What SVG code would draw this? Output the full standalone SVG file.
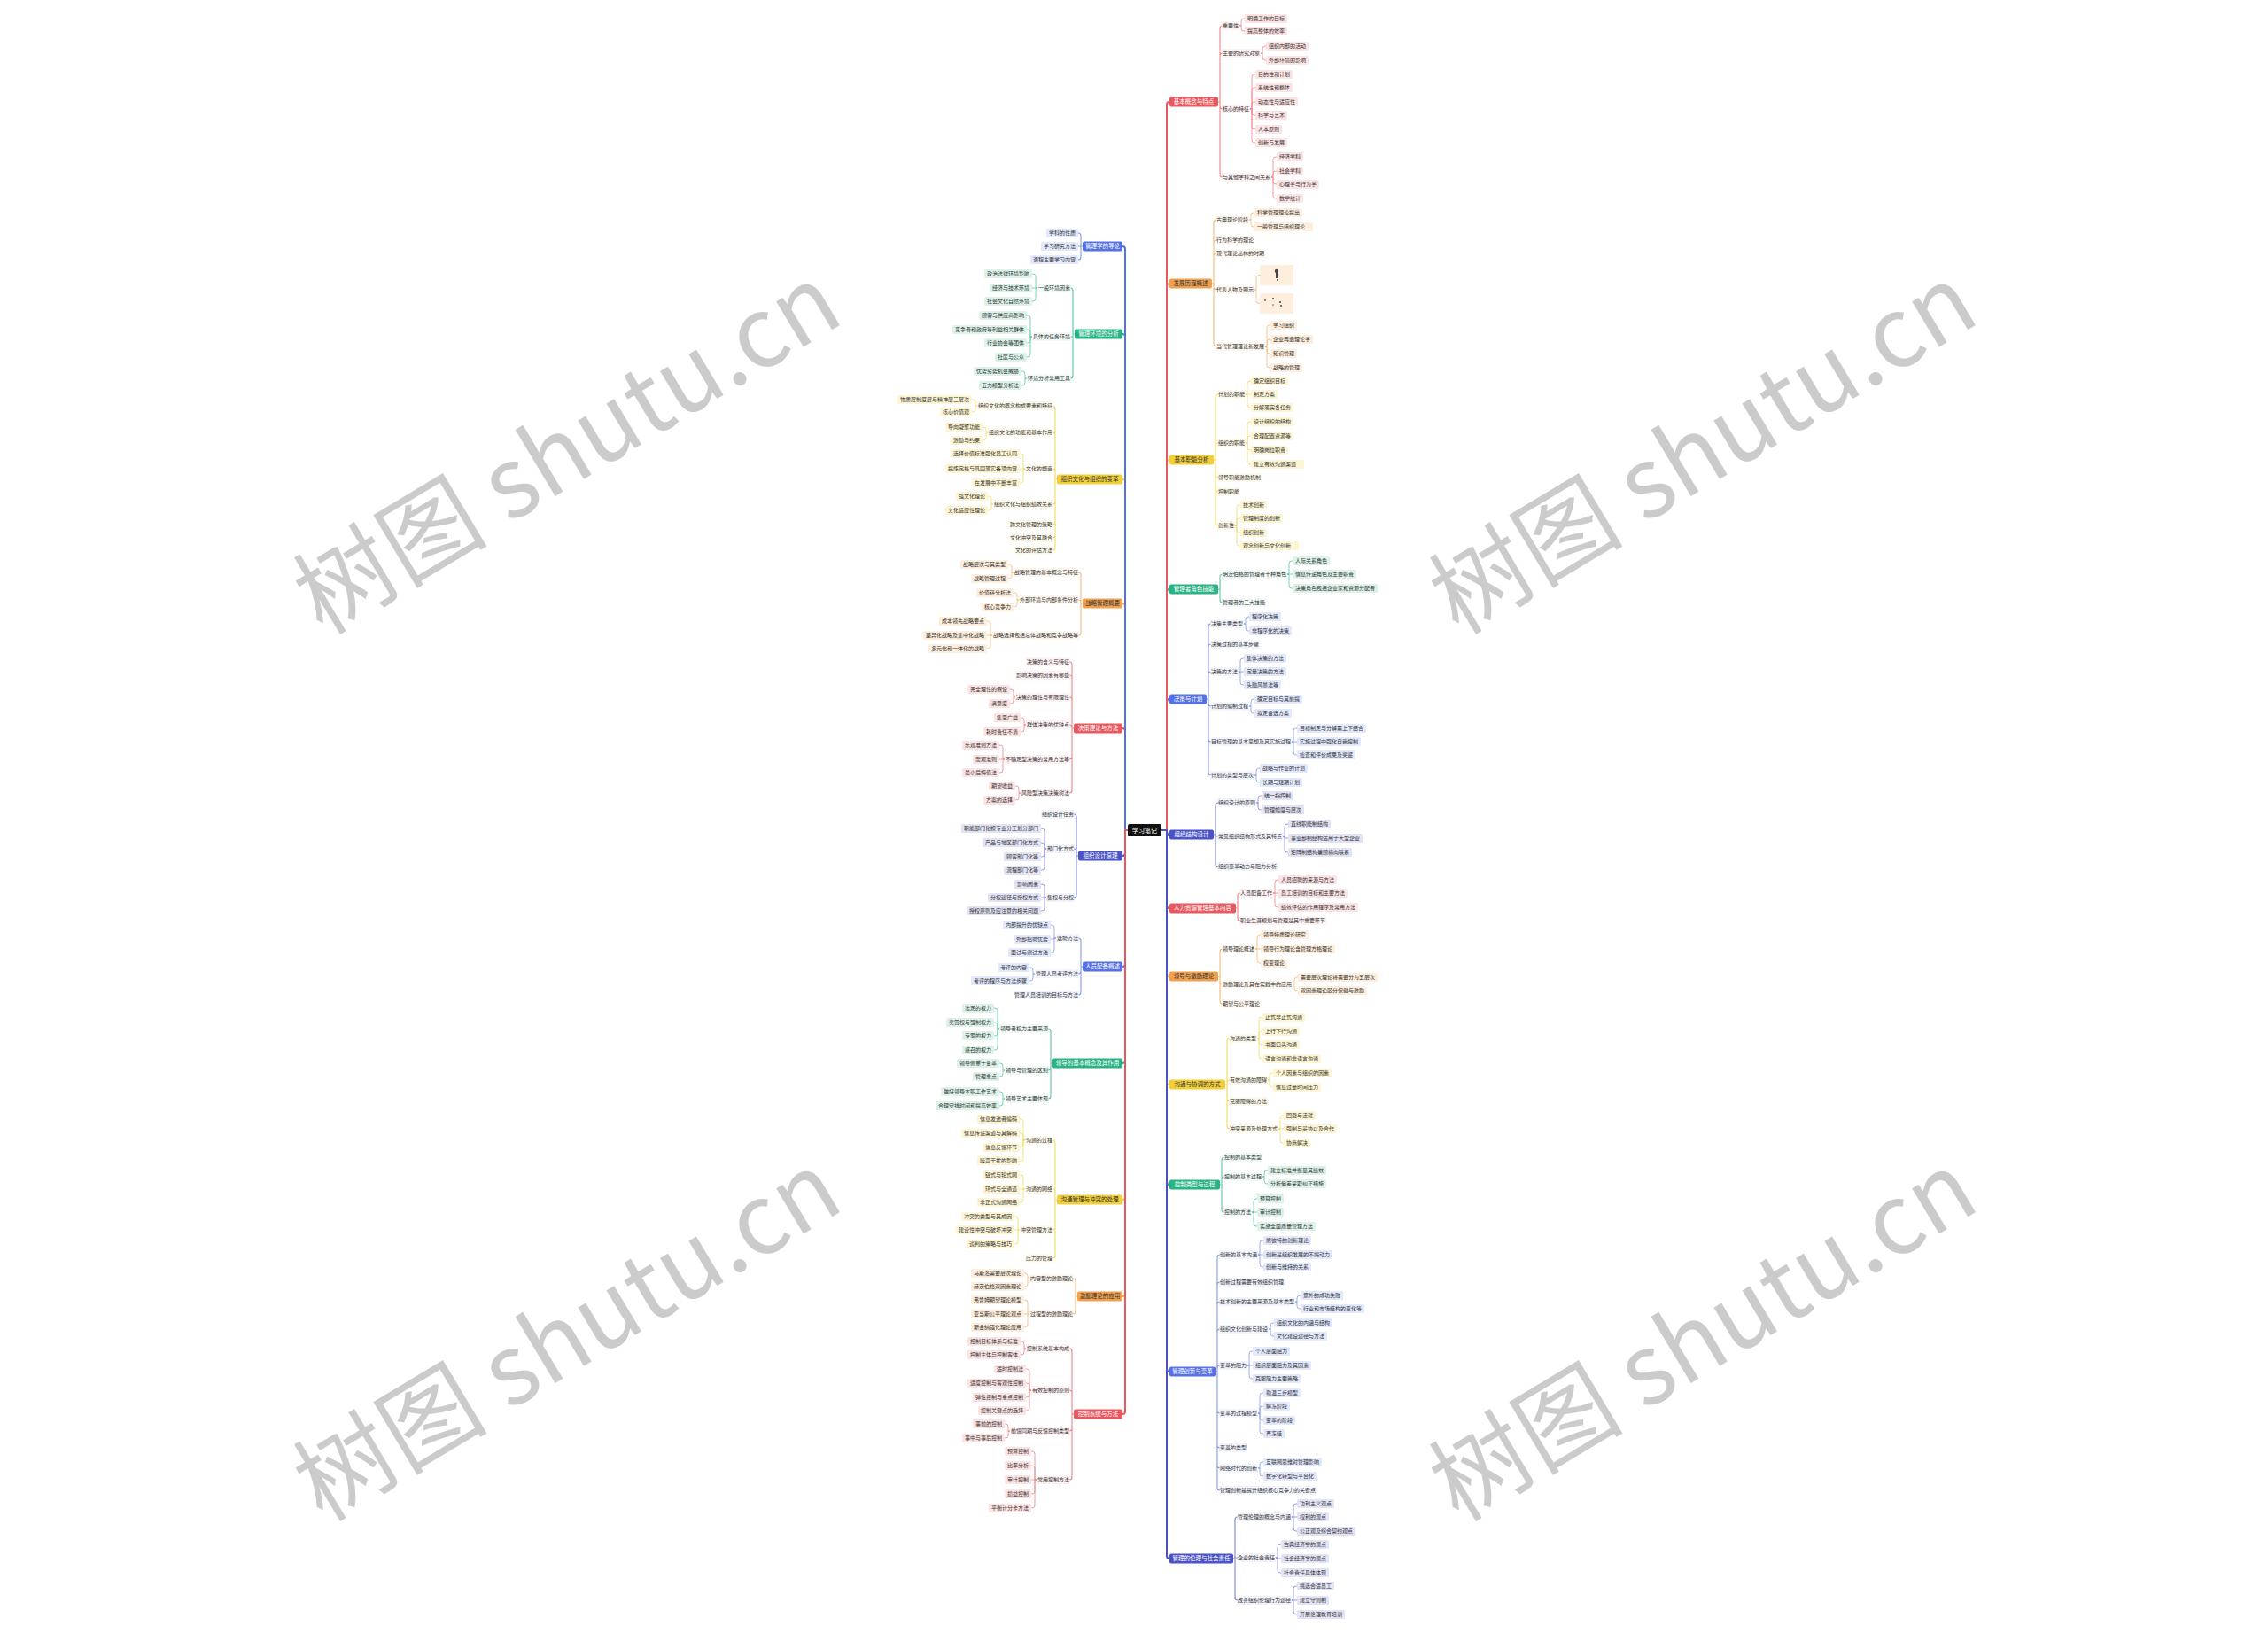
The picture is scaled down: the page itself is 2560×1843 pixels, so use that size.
<svg xmlns="http://www.w3.org/2000/svg" width="2560" height="1843" viewBox="0 0 2560 1843">
<style>
text{font-family:"Noto Sans CJK SC","Noto Sans",sans-serif}
.t{font-size:6px;fill:#333}
.e{text-anchor:end}
.bt{font-size:6.5px;text-anchor:middle}
.w{fill:#fff}
.d{fill:#333}
.ct{font-size:7px;fill:#fff;text-anchor:middle}
.wm{font-family:"Liberation Serif","Noto Sans CJK SC",serif;font-size:110px;fill:#cbcbcb;text-anchor:middle}
.h{opacity:.45}
.fr{fill:#FCE3E4}.fo{fill:#FDEEDD}.fy{fill:#FDF5D3}.fg{fill:#DDF3EA}.fb{fill:#E3E9FC}.fi{fill:#E2E4F6}
.br{fill:#E8585E}.bo{fill:#F0A150}.by{fill:#F2CF3A}.bg{fill:#29B384}.bb{fill:#5571E6}.bi{fill:#4A53C6}
.k{fill:none;stroke-width:2;stroke-linecap:round}
.c2{fill:none;stroke-width:1.1}
.c3{fill:none;stroke-width:.8}
.kr{stroke:#E8585E}.ko{stroke:#F0A150}.ky{stroke:#F2CF3A}.kg{stroke:#29B384}.kb{stroke:#5571E6}.ki{stroke:#4A53C6}
.sr{stroke:#EF8388}.so{stroke:#F4B97A}.sy{stroke:#F4D964}.sg{stroke:#5EC7A2}.sb{stroke:#8399EE}.si{stroke:#7D84D8}
</style>
<rect width="2560" height="1843" fill="#fff"/>
<g id="watermarks" class="wm">
<text transform="translate(660 540) rotate(-31)">树图 shutu.cn</text>
<text transform="translate(660 1541) rotate(-31)">树图 shutu.cn</text>
<text transform="translate(1942 540) rotate(-31)">树图 shutu.cn</text>
<text transform="translate(1942 1541) rotate(-31)">树图 shutu.cn</text>
</g>
<g id="connectors">
<path class="k ki" d="M1311 937H1317V939Q1317 942 1320 942"/>
<path class="k kr" d="M1311 937H1317V1022Q1317 1025 1320 1025"/>
<path class="k kb" d="M1311 937H1317V792Q1317 789 1320 789"/>
<path class="k ko" d="M1311 937H1317V1099Q1317 1102 1320 1102"/>
<path class="k kg" d="M1311 937H1317V668Q1317 665 1320 665"/>
<path class="k ky" d="M1311 937H1317V1221Q1317 1224 1320 1224"/>
<path class="k ky" d="M1311 937H1317V522Q1317 519 1320 519"/>
<path class="k kg" d="M1311 937H1317V1334Q1317 1337 1320 1337"/>
<path class="k ko" d="M1311 937H1317V323Q1317 320 1320 320"/>
<path class="k kb" d="M1311 937H1317V1545Q1317 1548 1320 1548"/>
<path class="k kr" d="M1311 937H1317V118Q1317 115 1320 115"/>
<path class="k ki" d="M1311 937H1317V1756Q1317 1759 1320 1759"/>
<path class="k ki" d="M1273 937H1270V963Q1270 966 1267 966"/>
<path class="k kr" d="M1273 937H1270V825Q1270 822 1267 822"/>
<path class="k kb" d="M1273 937H1270V1088Q1270 1091 1267 1091"/>
<path class="k ko" d="M1273 937H1270V684Q1270 681 1267 681"/>
<path class="k kg" d="M1273 937H1270V1197Q1270 1200 1267 1200"/>
<path class="k ky" d="M1273 937H1270V544Q1270 541 1267 541"/>
<path class="k ky" d="M1273 937H1270V1351Q1270 1354 1267 1354"/>
<path class="k kg" d="M1273 937H1270V380Q1270 377 1267 377"/>
<path class="k ko" d="M1273 937H1270V1460Q1270 1463 1267 1463"/>
<path class="k kb" d="M1273 937H1270V281Q1270 278 1267 278"/>
<path class="k kr" d="M1273 937H1270V1593Q1270 1596 1267 1596"/>
<path class="c2 sr" d="M1375 115H1377V32Q1377 29 1380 29M1375 115H1377V63Q1377 60 1380 60M1375 115H1377V120Q1377 123 1380 123M1375 115H1377V197Q1377 200 1380 200"/>
<path class="c2 so" d="M1368 320H1370V251Q1370 248 1373 248M1368 320H1370V274Q1370 271 1373 271M1368 320H1370V289Q1370 286 1373 286M1368 320H1370V324Q1370 327 1373 327M1368 320H1370V388Q1370 391 1373 391"/>
<path class="c2 sy" d="M1370 519H1372V448Q1372 445 1375 445M1370 519H1372V503Q1372 500 1375 500M1370 519H1372V536Q1372 539 1375 539M1370 519H1372V552Q1372 555 1375 555M1370 519H1372V590Q1372 593 1375 593"/>
<path class="c2 sg" d="M1375 665H1377V651Q1377 648 1380 648M1375 665H1377V677Q1377 680 1380 680"/>
<path class="c2 sb" d="M1362 789H1364V707Q1364 704 1367 704M1362 789H1364V730Q1364 727 1367 727M1362 789H1364V761Q1364 758 1367 758M1362 789H1364V794Q1364 797 1367 797M1362 789H1364V834Q1364 837 1367 837M1362 789H1364V872Q1364 875 1367 875"/>
<path class="c2 si" d="M1370 942H1372V909Q1372 906 1375 906M1370 942H1372V944H1375M1370 942H1372V975Q1372 978 1375 978"/>
<path class="c2 sr" d="M1395 1025H1397V1011Q1397 1008 1400 1008M1395 1025H1397V1036Q1397 1039 1400 1039"/>
<path class="c2 so" d="M1375 1102H1377V1074Q1377 1071 1380 1071M1375 1102H1377V1108Q1377 1111 1380 1111M1375 1102H1377V1130Q1377 1133 1380 1133"/>
<path class="c2 sy" d="M1383 1224H1385V1175Q1385 1172 1388 1172M1383 1224H1385V1222Q1385 1219 1388 1219M1383 1224H1385V1240Q1385 1243 1388 1243M1383 1224H1385V1271Q1385 1274 1388 1274"/>
<path class="c2 sg" d="M1377 1337H1379V1309Q1379 1306 1382 1306M1377 1337H1379V1331Q1379 1328 1382 1328M1377 1337H1379V1365Q1379 1368 1382 1368"/>
<path class="c2 sb" d="M1372 1548H1374V1419Q1374 1416 1377 1416M1372 1548H1374V1450Q1374 1447 1377 1447M1372 1548H1374V1472Q1374 1469 1377 1469M1372 1548H1374V1503Q1374 1500 1377 1500M1372 1548H1374V1544Q1374 1541 1377 1541M1372 1548H1374V1592Q1374 1595 1377 1595M1372 1548H1374V1631Q1374 1634 1377 1634M1372 1548H1374V1654Q1374 1657 1377 1657M1372 1548H1374V1679Q1374 1682 1377 1682"/>
<path class="c2 si" d="M1392 1759H1394V1715Q1394 1712 1397 1712M1392 1759H1394V1758H1397M1392 1759H1394V1803Q1394 1806 1397 1806"/>
<path class="c2 sb" d="M1222 278H1220V266Q1220 263 1217 263M1222 278H1217M1222 278H1220V290Q1220 293 1217 293"/>
<path class="c2 sg" d="M1213 377H1211V328Q1211 325 1208 325M1213 377H1211V380H1208M1213 377H1211V424Q1211 427 1208 427"/>
<path class="c2 sy" d="M1193 541H1191V461Q1191 458 1188 458M1193 541H1191V491Q1191 488 1188 488M1193 541H1191V532Q1191 529 1188 529M1193 541H1191V566Q1191 569 1188 569M1193 541H1191V589Q1191 592 1188 592M1193 541H1191V604Q1191 607 1188 607M1193 541H1191V618Q1191 621 1188 621"/>
<path class="c2 so" d="M1222 681H1220V649Q1220 646 1217 646M1222 681H1220V680Q1220 677 1217 677M1222 681H1220V714Q1220 717 1217 717"/>
<path class="c2 sr" d="M1212 822H1210V750Q1210 747 1207 747M1212 822H1210V765Q1210 762 1207 762M1212 822H1210V790Q1210 787 1207 787M1212 822H1210V821Q1210 818 1207 818M1212 822H1210V854Q1210 857 1207 857M1212 822H1210V892Q1210 895 1207 895"/>
<path class="c2 si" d="M1217 966H1215V922Q1215 919 1212 919M1217 966H1215V961Q1215 958 1212 958M1217 966H1215V1010Q1215 1013 1212 1013"/>
<path class="c2 sb" d="M1222 1091H1220V1062Q1220 1059 1217 1059M1222 1091H1220V1096Q1220 1099 1217 1099M1222 1091H1220V1120Q1220 1123 1217 1123"/>
<path class="c2 sg" d="M1188 1200H1186V1164Q1186 1161 1183 1161M1188 1200H1186V1205Q1186 1208 1183 1208M1188 1200H1186V1237Q1186 1240 1183 1240"/>
<path class="c2 sy" d="M1193 1354H1191V1290Q1191 1287 1188 1287M1193 1354H1191V1345Q1191 1342 1188 1342M1193 1354H1191V1385Q1191 1388 1188 1388M1193 1354H1191V1417Q1191 1420 1188 1420"/>
<path class="c2 so" d="M1216 1463H1214V1446Q1214 1443 1211 1443M1216 1463H1214V1480Q1214 1483 1211 1483"/>
<path class="c2 sr" d="M1212 1596H1210V1525Q1210 1522 1207 1522M1212 1596H1210V1572Q1210 1569 1207 1569M1212 1596H1210V1612Q1210 1615 1207 1615M1212 1596H1210V1667Q1210 1670 1207 1670"/>
<path class="c3 sr" d="M1399 29H1401V24Q1401 21 1404 21H1405M1399 29H1401V32Q1401 35 1404 35H1405M1423 60H1425V55Q1425 52 1428 52H1429M1423 60H1425V65Q1425 68 1428 68H1429M1411 123H1413V87Q1413 84 1416 84H1417M1411 123H1413V102Q1413 99 1416 99H1417M1411 123H1413V118Q1413 115 1416 115H1417M1411 123H1413V127Q1413 130 1416 130H1417M1411 123H1413V143Q1413 146 1416 146H1417M1411 123H1413V158Q1413 161 1416 161H1417M1435 200H1437V180Q1437 177 1440 177H1441M1435 200H1437V196Q1437 193 1440 193H1441M1435 200H1437V205Q1437 208 1440 208H1441M1435 200H1437V221Q1437 224 1440 224H1441"/>
<path class="c3 so" d="M1410 248H1412V243Q1412 240 1415 240H1416M1410 248H1412V253Q1412 256 1415 256H1416M1416 327H1418V313.5Q1418 310.5 1421 310.5H1422M1416 327H1418V339.5Q1418 342.5 1421 342.5H1422M1428 391H1430V370Q1430 367 1433 367H1434M1428 391H1430V386Q1430 383 1433 383H1434M1428 391H1430V396Q1430 399 1433 399H1434M1428 391H1430V412Q1430 415 1433 415H1434"/>
<path class="c3 sy" d="M1406 445H1408V433Q1408 430 1411 430H1412M1406 445H1412M1406 445H1408V457Q1408 460 1411 460H1412M1406 500H1408V479Q1408 476 1411 476H1412M1406 500H1408V495Q1408 492 1411 492H1412M1406 500H1408V505Q1408 508 1411 508H1412M1406 500H1408V521Q1408 524 1411 524H1412M1394 593H1396V573Q1396 570 1399 570H1400M1394 593H1396V588Q1396 585 1399 585H1400M1394 593H1396V598Q1396 601 1399 601H1400M1394 593H1396V613Q1396 616 1399 616H1400"/>
<path class="c3 sg" d="M1453 648H1455V636Q1455 633 1458 633H1459M1453 648H1459M1453 648H1455V661Q1455 664 1458 664H1459"/>
<path class="c3 sb" d="M1404 704H1406V699Q1406 696 1409 696H1410M1404 704H1406V709Q1406 712 1409 712H1410M1398 758H1400V746Q1400 743 1403 743H1404M1398 758H1404M1398 758H1400V770Q1400 773 1403 773H1404M1410 797H1412V792Q1412 789 1415 789H1416M1410 797H1412V802Q1412 805 1415 805H1416M1458 837H1460V825Q1460 822 1463 822H1464M1458 837H1464M1458 837H1460V849Q1460 852 1463 852H1464M1416 875H1418V870Q1418 867 1421 867H1422M1416 875H1418V880Q1418 883 1421 883H1422"/>
<path class="c3 si" d="M1418 906H1420V901Q1420 898 1423 898H1424M1418 906H1420V911Q1420 914 1423 914H1424M1448 944H1450V933Q1450 930 1453 930H1454M1448 944H1450V946H1454M1448 944H1450V959Q1450 962 1453 962H1454"/>
<path class="c3 sr" d="M1437 1008H1439V996Q1439 993 1442 993H1443M1437 1008H1443M1437 1008H1439V1021Q1439 1024 1442 1024H1443"/>
<path class="c3 so" d="M1417 1071H1419V1058Q1419 1055 1422 1055H1423M1417 1071H1423M1417 1071H1419V1084Q1419 1087 1422 1087H1423M1459 1111H1461V1106Q1461 1103 1464 1103H1465M1459 1111H1461V1115Q1461 1118 1464 1118H1465"/>
<path class="c3 sy" d="M1419 1172H1421V1151Q1421 1148 1424 1148H1425M1419 1172H1421V1167Q1421 1164 1424 1164H1425M1419 1172H1421V1176Q1421 1179 1424 1179H1425M1419 1172H1421V1192Q1421 1195 1424 1195H1425M1431 1219H1433V1214Q1433 1211 1436 1211H1437M1431 1219H1433V1224Q1433 1227 1436 1227H1437M1443 1274H1445V1262Q1445 1259 1448 1259H1449M1443 1274H1449M1443 1274H1445V1287Q1445 1290 1448 1290H1449"/>
<path class="c3 sg" d="M1425 1328H1427V1324Q1427 1321 1430 1321H1431M1425 1328H1427V1333Q1427 1336 1430 1336H1431M1413 1368H1415V1356Q1415 1353 1418 1353H1419M1413 1368H1419M1413 1368H1415V1381Q1415 1384 1418 1384H1419"/>
<path class="c3 sb" d="M1420 1416H1422V1403Q1422 1400 1425 1400H1426M1420 1416H1426M1420 1416H1422V1427Q1422 1430 1425 1430H1426M1462 1469H1464V1465Q1464 1462 1467 1462H1468M1462 1469H1464V1474Q1464 1477 1467 1477H1468M1432 1500H1434V1496Q1434 1493 1437 1493H1438M1432 1500H1434V1505Q1434 1508 1437 1508H1438M1408 1541H1410V1528Q1410 1525 1413 1525H1414M1408 1541H1414M1408 1541H1410V1553Q1410 1556 1413 1556H1414M1420 1595H1422V1575Q1422 1572 1425 1572H1426M1420 1595H1422V1590Q1422 1587 1425 1587H1426M1420 1595H1422V1600Q1422 1603 1425 1603H1426M1420 1595H1422V1615Q1422 1618 1425 1618H1426M1420 1657H1422V1653Q1422 1650 1425 1650H1426M1420 1657H1422V1663Q1422 1666 1425 1666H1426"/>
<path class="c3 si" d="M1458 1712H1460V1700Q1460 1697 1463 1697H1464M1458 1712H1464M1458 1712H1460V1725Q1460 1728 1463 1728H1464M1440 1758H1442V1746Q1442 1743 1445 1743H1446M1440 1758H1442V1759H1446M1440 1758H1442V1772Q1442 1775 1445 1775H1446M1458 1806H1460V1793Q1460 1790 1463 1790H1464M1458 1806H1464M1458 1806H1460V1819Q1460 1822 1463 1822H1464"/>
<path class="c3 sg" d="M1171 325H1169V312Q1169 309 1166 309H1165M1171 325H1165M1171 325H1169V337Q1169 340 1166 340H1165M1165 380H1163V359Q1163 356 1160 356H1159M1165 380H1163V375Q1163 372 1160 372H1159M1165 380H1163V384Q1163 387 1160 387H1159M1165 380H1163V400Q1163 403 1160 403H1159M1159 427H1157V422Q1157 419 1154 419H1153M1159 427H1157V432Q1157 435 1154 435H1153"/>
<path class="c3 sy" d="M1103 458H1101V454Q1101 451 1098 451H1097M1103 458H1101V462Q1101 465 1098 465H1097M1115 488H1113V485Q1113 482 1110 482H1109M1115 488H1113V494Q1113 497 1110 497H1109M1157 529H1155V515Q1155 512 1152 512H1151M1157 529H1151M1157 529H1155V542Q1155 545 1152 545H1151M1121 569H1119V563Q1119 560 1116 560H1115M1121 569H1119V573Q1119 576 1116 576H1115"/>
<path class="c3 so" d="M1144 646H1142V640Q1142 637 1139 637H1138M1144 646H1142V650Q1142 653 1139 653H1138M1150 677H1148V672Q1148 669 1145 669H1144M1150 677H1148V682Q1148 685 1145 685H1144M1120 717H1118V704Q1118 701 1115 701H1114M1120 717H1114M1120 717H1118V729Q1118 732 1115 732H1114"/>
<path class="c3 sr" d="M1146 787H1144V781Q1144 778 1141 778H1140M1146 787H1144V791Q1144 794 1141 794H1140M1158 818H1156V813Q1156 810 1153 810H1152M1158 818H1156V823Q1156 826 1153 826H1152M1134 857H1132V844Q1132 841 1129 841H1128M1134 857H1128M1134 857H1132V869Q1132 872 1129 872H1128M1152 895H1150V890Q1150 887 1147 887H1146M1152 895H1150V900Q1150 903 1147 903H1146"/>
<path class="c3 si" d="M1181 958H1179V938Q1179 935 1176 935H1175M1181 958H1179V954Q1179 951 1176 951H1175M1181 958H1179V964Q1179 967 1176 967H1175M1181 958H1179V979Q1179 982 1176 982H1175M1181 1013H1179V1001Q1179 998 1176 998H1175M1181 1013H1175M1181 1013H1179V1025Q1179 1028 1176 1028H1175"/>
<path class="c3 sb" d="M1192 1059H1190V1047Q1190 1044 1187 1044H1186M1192 1059H1190V1060H1186M1192 1059H1190V1072Q1190 1075 1187 1075H1186M1168 1099H1166V1095Q1166 1092 1163 1092H1162M1168 1099H1166V1104Q1166 1107 1163 1107H1162"/>
<path class="c3 sg" d="M1128 1161H1126V1141Q1126 1138 1123 1138H1122M1128 1161H1126V1157Q1126 1154 1123 1154H1122M1128 1161H1126V1166Q1126 1169 1123 1169H1122M1128 1161H1126V1182Q1126 1185 1123 1185H1122M1134 1208H1132V1203Q1132 1200 1129 1200H1128M1134 1208H1132V1212Q1132 1215 1129 1215H1128M1134 1240H1132V1235Q1132 1232 1129 1232H1128M1134 1240H1132V1245Q1132 1248 1129 1248H1128"/>
<path class="c3 sy" d="M1157 1287H1155V1266Q1155 1263 1152 1263H1151M1157 1287H1155V1282Q1155 1279 1152 1279H1151M1157 1287H1155V1292Q1155 1295 1152 1295H1151M1157 1287H1155V1307Q1155 1310 1152 1310H1151M1157 1342H1155V1329Q1155 1326 1152 1326H1151M1157 1342H1151M1157 1342H1155V1354Q1155 1357 1152 1357H1151M1151 1388H1149V1376Q1149 1373 1146 1373H1145M1151 1388H1145M1151 1388H1149V1401Q1149 1404 1146 1404H1145"/>
<path class="c3 so" d="M1162 1443H1160V1440Q1160 1437 1157 1437H1156M1162 1443H1160V1449Q1160 1452 1157 1452H1156M1162 1483H1160V1470Q1160 1467 1157 1467H1156M1162 1483H1156M1162 1483H1160V1495Q1160 1498 1157 1498H1156"/>
<path class="c3 sr" d="M1158 1522H1156V1517Q1156 1514 1153 1514H1152M1158 1522H1156V1526Q1156 1529 1153 1529H1152M1164 1569H1162V1548Q1162 1545 1159 1545H1158M1164 1569H1162V1564Q1162 1561 1159 1561H1158M1164 1569H1162V1574Q1162 1577 1159 1577H1158M1164 1569H1162V1589Q1162 1592 1159 1592H1158M1140 1615H1138V1610Q1138 1607 1135 1607H1134M1140 1615H1138V1620Q1138 1623 1135 1623H1134M1170 1670H1168V1641Q1168 1638 1165 1638H1164M1170 1670H1168V1657Q1168 1654 1165 1654H1164M1170 1670H1164M1170 1670H1168V1683Q1168 1686 1165 1686H1164M1170 1670H1168V1699Q1168 1702 1165 1702H1164"/>
</g>
<g id="nodes">
<g id="center"><rect x="1273" y="930" width="38" height="14" rx="2" fill="#111"/><text class="ct" x="1292" y="939.5">学习笔记</text></g>

<g id="r1"><rect class="br" x="1320" y="109.5" width="55" height="11" rx="2"/><text class="bt w" x="1347.5" y="117.4">基本概念与特点</text></g>
<g id="r1a"><rect class="fr h" x="1379" y="24" width="20" height="10" rx="1.5"/><text class="t" x="1380" y="31.1">重要性</text></g>
<g id="r1a1"><rect class="fr" x="1405" y="16" width="48" height="10" rx="1.5"/><text class="t" x="1408" y="23.1">明确工作的目标</text></g>
<g id="r1a2"><rect class="fr" x="1405" y="30" width="48" height="10" rx="1.5"/><text class="t" x="1408" y="37.1">提高整体的效率</text></g>
<g id="r1b"><rect class="fr h" x="1379" y="55" width="44" height="10" rx="1.5"/><text class="t" x="1380" y="62.1">主要的研究对象</text></g>
<g id="r1b1"><rect class="fr" x="1429" y="47" width="48" height="10" rx="1.5"/><text class="t" x="1432" y="54.1">组织内部的活动</text></g>
<g id="r1b2"><rect class="fr" x="1429" y="63" width="48" height="10" rx="1.5"/><text class="t" x="1432" y="70.1">外部环境的影响</text></g>
<g id="r1c"><rect class="fr h" x="1379" y="118" width="32" height="10" rx="1.5"/><text class="t" x="1380" y="125.1">核心的特征</text></g>
<g id="r1c1"><rect class="fr" x="1417" y="79" width="42" height="10" rx="1.5"/><text class="t" x="1420" y="86.1">目的性和计划</text></g>
<g id="r1c2"><rect class="fr" x="1417" y="94" width="42" height="10" rx="1.5"/><text class="t" x="1420" y="101.1">系统性和整体</text></g>
<g id="r1c3"><rect class="fr" x="1417" y="110" width="48" height="10" rx="1.5"/><text class="t" x="1420" y="117.1">动态性与适应性</text></g>
<g id="r1c4"><rect class="fr" x="1417" y="125" width="36" height="10" rx="1.5"/><text class="t" x="1420" y="132.1">科学与艺术</text></g>
<g id="r1c5"><rect class="fr" x="1417" y="141" width="30" height="10" rx="1.5"/><text class="t" x="1420" y="148.1">人本原则</text></g>
<g id="r1c6"><rect class="fr" x="1417" y="156" width="36" height="10" rx="1.5"/><text class="t" x="1420" y="163.1">创新与发展</text></g>
<g id="r1d"><rect class="fr h" x="1379" y="195" width="56" height="10" rx="1.5"/><text class="t" x="1380" y="202.1">与其他学科之间关系</text></g>
<g id="r1d1"><rect class="fr" x="1441" y="172" width="30" height="10" rx="1.5"/><text class="t" x="1444" y="179.1">经济学科</text></g>
<g id="r1d2"><rect class="fr" x="1441" y="188" width="30" height="10" rx="1.5"/><text class="t" x="1444" y="195.1">社会学科</text></g>
<g id="r1d3"><rect class="fr" x="1441" y="203" width="48" height="10" rx="1.5"/><text class="t" x="1444" y="210.1">心理学与行为学</text></g>
<g id="r1d4"><rect class="fr" x="1441" y="219" width="30" height="10" rx="1.5"/><text class="t" x="1444" y="226.1">数学统计</text></g>

<g id="r2"><rect class="bo" x="1320" y="314.5" width="48" height="11" rx="2"/><text class="bt d" x="1344" y="322.4">发展历程概述</text></g>
<g id="r2a"><rect class="fo h" x="1372" y="243" width="38" height="10" rx="1.5"/><text class="t" x="1373" y="250.1">古典理论阶段</text></g>
<g id="r2a1"><rect class="fo" x="1416" y="235" width="54" height="10" rx="1.5"/><text class="t" x="1419" y="242.1">科学管理理论提出</text></g>
<g id="r2a2"><rect class="fo" x="1416" y="251" width="66" height="10" rx="1.5"/><text class="t" x="1419" y="258.1">一般管理与组织理论</text></g>
<g id="r2b"><rect class="fo h" x="1372" y="266" width="44" height="10" rx="1.5"/><text class="t" x="1373" y="273.1">行为科学的理论</text></g>
<g id="r2c"><rect class="fo h" x="1372" y="281" width="56" height="10" rx="1.5"/><text class="t" x="1373" y="288.1">现代理论丛林的时期</text></g>
<g id="r2d"><rect class="fo h" x="1372" y="322" width="44" height="10" rx="1.5"/><text class="t" x="1373" y="329.1">代表人物及图示</text></g>
<g id="r2d1"><rect class="fo" x="1422" y="299" width="38" height="23" rx="1.5"/><circle cx="1441" cy="306" r="2.2" fill="#444"/><rect x="1440" y="307" width="2.5" height="7" fill="#444"/><circle cx="1442" cy="316" r="1" fill="#444"/></g>
<g id="r2d2"><rect class="fo" x="1422" y="331" width="38" height="23" rx="1.5"/><circle cx="1428" cy="339" r=".9" fill="#555"/><circle cx="1437" cy="337" r="1" fill="#444"/><circle cx="1445" cy="341" r="1" fill="#444"/><circle cx="1446" cy="345" r="1" fill="#444"/><circle cx="1437" cy="344" r=".8" fill="#666"/></g>
<g id="r2e"><rect class="fo h" x="1372" y="386" width="56" height="10" rx="1.5"/><text class="t" x="1373" y="393.1">当代管理理论新发展</text></g>
<g id="r2e1"><rect class="fo" x="1434" y="362" width="30" height="10" rx="1.5"/><text class="t" x="1437" y="369.1">学习组织</text></g>
<g id="r2e2"><rect class="fo" x="1434" y="378" width="48" height="10" rx="1.5"/><text class="t" x="1437" y="385.1">企业再造理论学</text></g>
<g id="r2e3"><rect class="fo" x="1434" y="394" width="30" height="10" rx="1.5"/><text class="t" x="1437" y="401.1">知识管理</text></g>
<g id="r2e4"><rect class="fo" x="1434" y="410" width="36" height="10" rx="1.5"/><text class="t" x="1437" y="417.1">战略的管理</text></g>

<g id="r3"><rect class="by" x="1320" y="513.5" width="50" height="11" rx="2"/><text class="bt d" x="1345" y="521.4">基本职能分析</text></g>
<g id="r3a"><rect class="fy h" x="1374" y="440" width="32" height="10" rx="1.5"/><text class="t" x="1375" y="447.1">计划的职能</text></g>
<g id="r3a1"><rect class="fy" x="1412" y="425" width="42" height="10" rx="1.5"/><text class="t" x="1415" y="432.1">确定组织目标</text></g>
<g id="r3a2"><rect class="fy" x="1412" y="440" width="30" height="10" rx="1.5"/><text class="t" x="1415" y="447.1">制定方案</text></g>
<g id="r3a3"><rect class="fy" x="1412" y="455" width="48" height="10" rx="1.5"/><text class="t" x="1415" y="462.1">分解落实各任务</text></g>
<g id="r3b"><rect class="fy h" x="1374" y="495" width="32" height="10" rx="1.5"/><text class="t" x="1375" y="502.1">组织的职能</text></g>
<g id="r3b1"><rect class="fy" x="1412" y="471" width="48" height="10" rx="1.5"/><text class="t" x="1415" y="478.1">设计组织的结构</text></g>
<g id="r3b2"><rect class="fy" x="1412" y="487" width="48" height="10" rx="1.5"/><text class="t" x="1415" y="494.1">合理配置资源等</text></g>
<g id="r3b3"><rect class="fy" x="1412" y="503" width="42" height="10" rx="1.5"/><text class="t" x="1415" y="510.1">明确岗位职责</text></g>
<g id="r3b4"><rect class="fy" x="1412" y="519" width="60" height="10" rx="1.5"/><text class="t" x="1415" y="526.1">建立有效沟通渠道</text></g>
<g id="r3c"><rect class="fy h" x="1374" y="534" width="50" height="10" rx="1.5"/><text class="t" x="1375" y="541.1">领导职能激励机制</text></g>
<g id="r3d"><rect class="fy h" x="1374" y="550" width="26" height="10" rx="1.5"/><text class="t" x="1375" y="557.1">控制职能</text></g>
<g id="r3e"><rect class="fy h" x="1374" y="588" width="20" height="10" rx="1.5"/><text class="t" x="1375" y="595.1">创新性</text></g>
<g id="r3e1"><rect class="fy" x="1400" y="565" width="30" height="10" rx="1.5"/><text class="t" x="1403" y="572.1">技术创新</text></g>
<g id="r3e2"><rect class="fy" x="1400" y="580" width="48" height="10" rx="1.5"/><text class="t" x="1403" y="587.1">管理制度的创新</text></g>
<g id="r3e3"><rect class="fy" x="1400" y="596" width="30" height="10" rx="1.5"/><text class="t" x="1403" y="603.1">组织创新</text></g>
<g id="r3e4"><rect class="fy" x="1400" y="611" width="66" height="10" rx="1.5"/><text class="t" x="1403" y="618.1">观念创新与文化创新</text></g>

<g id="r4"><rect class="bg" x="1320" y="659.5" width="55" height="11" rx="2"/><text class="bt w" x="1347.5" y="667.4">管理者角色技能</text></g>
<g id="r4a"><rect class="fg h" x="1379" y="643" width="74" height="10" rx="1.5"/><text class="t" x="1380" y="650.1">明茨伯格的管理者十种角色</text></g>
<g id="r4a1"><rect class="fg" x="1459" y="628" width="42" height="10" rx="1.5"/><text class="t" x="1462" y="635.1">人际关系角色</text></g>
<g id="r4a2"><rect class="fg" x="1459" y="643" width="72" height="10" rx="1.5"/><text class="t" x="1462" y="650.1">信息传递角色及主要职责</text></g>
<g id="r4a3"><rect class="fg" x="1459" y="659" width="96" height="10" rx="1.5"/><text class="t" x="1462" y="666.1">决策角色包括企业家和资源分配者</text></g>
<g id="r4b"><rect class="fg h" x="1379" y="675" width="50" height="10" rx="1.5"/><text class="t" x="1380" y="682.1">管理者的三大技能</text></g>

<g id="r5"><rect class="bb" x="1320" y="783.5" width="42" height="11" rx="2"/><text class="bt w" x="1341" y="791.4">决策与计划</text></g>
<g id="r5a"><rect class="fb h" x="1366" y="699" width="38" height="10" rx="1.5"/><text class="t" x="1367" y="706.1">决策主要类型</text></g>
<g id="r5a1"><rect class="fb" x="1410" y="691" width="36" height="10" rx="1.5"/><text class="t" x="1413" y="698.1">程序化决策</text></g>
<g id="r5a2"><rect class="fb" x="1410" y="707" width="48" height="10" rx="1.5"/><text class="t" x="1413" y="714.1">非程序化的决策</text></g>
<g id="r5b"><rect class="fb h" x="1366" y="722" width="56" height="10" rx="1.5"/><text class="t" x="1367" y="729.1">决策过程的基本步骤</text></g>
<g id="r5c"><rect class="fb h" x="1366" y="753" width="32" height="10" rx="1.5"/><text class="t" x="1367" y="760.1">决策的方法</text></g>
<g id="r5c1"><rect class="fb" x="1404" y="738" width="48" height="10" rx="1.5"/><text class="t" x="1407" y="745.1">集体决策的方法</text></g>
<g id="r5c2"><rect class="fb" x="1404" y="753" width="48" height="10" rx="1.5"/><text class="t" x="1407" y="760.1">定量决策的方法</text></g>
<g id="r5c3"><rect class="fb" x="1404" y="768" width="42" height="10" rx="1.5"/><text class="t" x="1407" y="775.1">头脑风暴法等</text></g>
<g id="r5d"><rect class="fb h" x="1366" y="792" width="44" height="10" rx="1.5"/><text class="t" x="1367" y="799.1">计划的编制过程</text></g>
<g id="r5d1"><rect class="fb" x="1416" y="784" width="54" height="10" rx="1.5"/><text class="t" x="1419" y="791.1">确定目标与其前提</text></g>
<g id="r5d2"><rect class="fb" x="1416" y="800" width="42" height="10" rx="1.5"/><text class="t" x="1419" y="807.1">拟定备选方案</text></g>
<g id="r5e"><rect class="fb h" x="1366" y="832" width="92" height="10" rx="1.5"/><text class="t" x="1367" y="839.1">目标管理的基本思想及其实施过程</text></g>
<g id="r5e1"><rect class="fb" x="1464" y="817" width="78" height="10" rx="1.5"/><text class="t" x="1467" y="824.1">目标制定与分解需上下结合</text></g>
<g id="r5e2"><rect class="fb" x="1464" y="832" width="72" height="10" rx="1.5"/><text class="t" x="1467" y="839.1">实施过程中强化自我控制</text></g>
<g id="r5e3"><rect class="fb" x="1464" y="847" width="66" height="10" rx="1.5"/><text class="t" x="1467" y="854.1">检查和评价成果及奖惩</text></g>
<g id="r5f"><rect class="fb h" x="1366" y="870" width="50" height="10" rx="1.5"/><text class="t" x="1367" y="877.1">计划的类型与层次</text></g>
<g id="r5f1"><rect class="fb" x="1422" y="862" width="54" height="10" rx="1.5"/><text class="t" x="1425" y="869.1">战略与作业的计划</text></g>
<g id="r5f2"><rect class="fb" x="1422" y="878" width="48" height="10" rx="1.5"/><text class="t" x="1425" y="885.1">长期与短期计划</text></g>

<g id="r6"><rect class="bi" x="1320" y="936.5" width="50" height="11" rx="2"/><text class="bt w" x="1345" y="944.4">组织结构设计</text></g>
<g id="r6a"><rect class="fi h" x="1374" y="901" width="44" height="10" rx="1.5"/><text class="t" x="1375" y="908.1">组织设计的原则</text></g>
<g id="r6a1"><rect class="fi" x="1424" y="893" width="36" height="10" rx="1.5"/><text class="t" x="1427" y="900.1">统一指挥制</text></g>
<g id="r6a2"><rect class="fi" x="1424" y="909" width="48" height="10" rx="1.5"/><text class="t" x="1427" y="916.1">管理幅度与层次</text></g>
<g id="r6b"><rect class="fi h" x="1374" y="939" width="74" height="10" rx="1.5"/><text class="t" x="1375" y="946.1">常见组织结构形式及其特点</text></g>
<g id="r6b1"><rect class="fi" x="1454" y="925" width="48" height="10" rx="1.5"/><text class="t" x="1457" y="932.1">直线职能制结构</text></g>
<g id="r6b2"><rect class="fi" x="1454" y="941" width="84" height="10" rx="1.5"/><text class="t" x="1457" y="948.1">事业部制结构适用于大型企业</text></g>
<g id="r6b3"><rect class="fi" x="1454" y="957" width="72" height="10" rx="1.5"/><text class="t" x="1457" y="964.1">矩阵制结构兼顾横向联系</text></g>
<g id="r6c"><rect class="fi h" x="1374" y="973" width="68" height="10" rx="1.5"/><text class="t" x="1375" y="980.1">组织变革动力与阻力分析</text></g>

<g id="r7"><rect class="br" x="1320" y="1019.5" width="75" height="11" rx="2"/><text class="bt w" x="1357.5" y="1027.4">人力资源管理基本内容</text></g>
<g id="r7a"><rect class="fr h" x="1399" y="1003" width="38" height="10" rx="1.5"/><text class="t" x="1400" y="1010.1">人员配备工作</text></g>
<g id="r7a1"><rect class="fr" x="1443" y="988" width="66" height="10" rx="1.5"/><text class="t" x="1446" y="995.1">人员招聘的来源与方法</text></g>
<g id="r7a2"><rect class="fr" x="1443" y="1003" width="78" height="10" rx="1.5"/><text class="t" x="1446" y="1010.1">员工培训的目标和主要方法</text></g>
<g id="r7a3"><rect class="fr" x="1443" y="1019" width="90" height="10" rx="1.5"/><text class="t" x="1446" y="1026.1">绩效评估的作用程序及常用方法</text></g>
<g id="r7b"><rect class="fr h" x="1399" y="1034" width="98" height="10" rx="1.5"/><text class="t" x="1400" y="1041.1">职业生涯规划与管理是其中重要环节</text></g>

<g id="r8"><rect class="bo" x="1320" y="1096.5" width="55" height="11" rx="2"/><text class="bt d" x="1347.5" y="1104.4">领导与激励理论</text></g>
<g id="r8a"><rect class="fo h" x="1379" y="1066" width="38" height="10" rx="1.5"/><text class="t" x="1380" y="1073.1">领导理论概述</text></g>
<g id="r8a1"><rect class="fo" x="1423" y="1050" width="54" height="10" rx="1.5"/><text class="t" x="1426" y="1057.1">领导特质理论研究</text></g>
<g id="r8a2"><rect class="fo" x="1423" y="1066" width="84" height="10" rx="1.5"/><text class="t" x="1426" y="1073.1">领导行为理论含管理方格理论</text></g>
<g id="r8a3"><rect class="fo" x="1423" y="1082" width="30" height="10" rx="1.5"/><text class="t" x="1426" y="1089.1">权变理论</text></g>
<g id="r8b"><rect class="fo h" x="1379" y="1106" width="80" height="10" rx="1.5"/><text class="t" x="1380" y="1113.1">激励理论及其在实践中的应用</text></g>
<g id="r8b1"><rect class="fo" x="1465" y="1098" width="90" height="10" rx="1.5"/><text class="t" x="1468" y="1105.1">需要层次理论将需要分为五层次</text></g>
<g id="r8b2"><rect class="fo" x="1465" y="1113" width="78" height="10" rx="1.5"/><text class="t" x="1468" y="1120.1">双因素理论区分保健与激励</text></g>
<g id="r8c"><rect class="fo h" x="1379" y="1128" width="44" height="10" rx="1.5"/><text class="t" x="1380" y="1135.1">期望与公平理论</text></g>

<g id="r9"><rect class="by" x="1320" y="1218.5" width="63" height="11" rx="2"/><text class="bt d" x="1351.5" y="1226.4">沟通与协调的方式</text></g>
<g id="r9a"><rect class="fy h" x="1387" y="1167" width="32" height="10" rx="1.5"/><text class="t" x="1388" y="1174.1">沟通的类型</text></g>
<g id="r9a1"><rect class="fy" x="1425" y="1143" width="48" height="10" rx="1.5"/><text class="t" x="1428" y="1150.1">正式非正式沟通</text></g>
<g id="r9a2"><rect class="fy" x="1425" y="1159" width="42" height="10" rx="1.5"/><text class="t" x="1428" y="1166.1">上行下行沟通</text></g>
<g id="r9a3"><rect class="fy" x="1425" y="1174" width="42" height="10" rx="1.5"/><text class="t" x="1428" y="1181.1">书面口头沟通</text></g>
<g id="r9a4"><rect class="fy" x="1425" y="1190" width="66" height="10" rx="1.5"/><text class="t" x="1428" y="1197.1">语言沟通和非语言沟通</text></g>
<g id="r9b"><rect class="fy h" x="1387" y="1214" width="44" height="10" rx="1.5"/><text class="t" x="1388" y="1221.1">有效沟通的障碍</text></g>
<g id="r9b1"><rect class="fy" x="1437" y="1206" width="66" height="10" rx="1.5"/><text class="t" x="1440" y="1213.1">个人因素与组织的因素</text></g>
<g id="r9b2"><rect class="fy" x="1437" y="1222" width="54" height="10" rx="1.5"/><text class="t" x="1440" y="1229.1">信息过量时间压力</text></g>
<g id="r9c"><rect class="fy h" x="1387" y="1238" width="44" height="10" rx="1.5"/><text class="t" x="1388" y="1245.1">克服障碍的方法</text></g>
<g id="r9d"><rect class="fy h" x="1387" y="1269" width="56" height="10" rx="1.5"/><text class="t" x="1388" y="1276.1">冲突来源及处理方式</text></g>
<g id="r9d1"><rect class="fy" x="1449" y="1254" width="36" height="10" rx="1.5"/><text class="t" x="1452" y="1261.1">回避与迁就</text></g>
<g id="r9d2"><rect class="fy" x="1449" y="1269" width="60" height="10" rx="1.5"/><text class="t" x="1452" y="1276.1">强制与妥协以及合作</text></g>
<g id="r9d3"><rect class="fy" x="1449" y="1285" width="30" height="10" rx="1.5"/><text class="t" x="1452" y="1292.1">协商解决</text></g>

<g id="r10"><rect class="bg" x="1320" y="1331.5" width="57" height="11" rx="2"/><text class="bt w" x="1348.5" y="1339.4">控制类型与过程</text></g>
<g id="r10a"><rect class="fg h" x="1381" y="1301" width="44" height="10" rx="1.5"/><text class="t" x="1382" y="1308.1">控制的基本类型</text></g>
<g id="r10b"><rect class="fg h" x="1381" y="1323" width="44" height="10" rx="1.5"/><text class="t" x="1382" y="1330.1">控制的基本过程</text></g>
<g id="r10b1"><rect class="fg" x="1431" y="1316" width="66" height="10" rx="1.5"/><text class="t" x="1434" y="1323.1">建立标准并衡量其绩效</text></g>
<g id="r10b2"><rect class="fg" x="1431" y="1331" width="66" height="10" rx="1.5"/><text class="t" x="1434" y="1338.1">分析偏差采取纠正措施</text></g>
<g id="r10c"><rect class="fg h" x="1381" y="1363" width="32" height="10" rx="1.5"/><text class="t" x="1382" y="1370.1">控制的方法</text></g>
<g id="r10c1"><rect class="fg" x="1419" y="1348" width="30" height="10" rx="1.5"/><text class="t" x="1422" y="1355.1">预算控制</text></g>
<g id="r10c2"><rect class="fg" x="1419" y="1363" width="30" height="10" rx="1.5"/><text class="t" x="1422" y="1370.1">审计控制</text></g>
<g id="r10c3"><rect class="fg" x="1419" y="1379" width="66" height="10" rx="1.5"/><text class="t" x="1422" y="1386.1">实施全面质量管理方法</text></g>

<g id="r11"><rect class="bb" x="1320" y="1542.5" width="52" height="11" rx="2"/><text class="bt w" x="1346" y="1550.4">管理创新与变革</text></g>
<g id="r11a"><rect class="fb h" x="1376" y="1411" width="44" height="10" rx="1.5"/><text class="t" x="1377" y="1418.1">创新的基本内涵</text></g>
<g id="r11a1"><rect class="fb" x="1426" y="1395" width="54" height="10" rx="1.5"/><text class="t" x="1429" y="1402.1">熊彼特的创新理论</text></g>
<g id="r11a2"><rect class="fb" x="1426" y="1411" width="78" height="10" rx="1.5"/><text class="t" x="1429" y="1418.1">创新是组织发展的不竭动力</text></g>
<g id="r11a3"><rect class="fb" x="1426" y="1425" width="54" height="10" rx="1.5"/><text class="t" x="1429" y="1432.1">创新与维持的关系</text></g>
<g id="r11b"><rect class="fb h" x="1376" y="1442" width="74" height="10" rx="1.5"/><text class="t" x="1377" y="1449.1">创新过程需要有效组织管理</text></g>
<g id="r11c"><rect class="fb h" x="1376" y="1464" width="86" height="10" rx="1.5"/><text class="t" x="1377" y="1471.1">技术创新的主要来源及基本类型</text></g>
<g id="r11c1"><rect class="fb" x="1468" y="1457" width="48" height="10" rx="1.5"/><text class="t" x="1471" y="1464.1">意外的成功失败</text></g>
<g id="r11c2"><rect class="fb" x="1468" y="1472" width="72" height="10" rx="1.5"/><text class="t" x="1471" y="1479.1">行业和市场结构的变化等</text></g>
<g id="r11d"><rect class="fb h" x="1376" y="1495" width="56" height="10" rx="1.5"/><text class="t" x="1377" y="1502.1">组织文化创新与建设</text></g>
<g id="r11d1"><rect class="fb" x="1438" y="1488" width="66" height="10" rx="1.5"/><text class="t" x="1441" y="1495.1">组织文化的内涵与结构</text></g>
<g id="r11d2"><rect class="fb" x="1438" y="1503" width="60" height="10" rx="1.5"/><text class="t" x="1441" y="1510.1">文化建设途径与方法</text></g>
<g id="r11e"><rect class="fb h" x="1376" y="1536" width="32" height="10" rx="1.5"/><text class="t" x="1377" y="1543.1">变革的阻力</text></g>
<g id="r11e1"><rect class="fb" x="1414" y="1520" width="42" height="10" rx="1.5"/><text class="t" x="1417" y="1527.1">个人层面阻力</text></g>
<g id="r11e2"><rect class="fb" x="1414" y="1536" width="66" height="10" rx="1.5"/><text class="t" x="1417" y="1543.1">组织层面阻力及其因素</text></g>
<g id="r11e3"><rect class="fb" x="1414" y="1551" width="54" height="10" rx="1.5"/><text class="t" x="1417" y="1558.1">克服阻力主要策略</text></g>
<g id="r11f"><rect class="fb h" x="1376" y="1590" width="44" height="10" rx="1.5"/><text class="t" x="1377" y="1597.1">变革的过程模型</text></g>
<g id="r11f1"><rect class="fb" x="1426" y="1567" width="42" height="10" rx="1.5"/><text class="t" x="1429" y="1574.1">勒温三步模型</text></g>
<g id="r11f2"><rect class="fb" x="1426" y="1582" width="30" height="10" rx="1.5"/><text class="t" x="1429" y="1589.1">解冻阶段</text></g>
<g id="r11f3"><rect class="fb" x="1426" y="1598" width="36" height="10" rx="1.5"/><text class="t" x="1429" y="1605.1">变革的阶段</text></g>
<g id="r11f4"><rect class="fb" x="1426" y="1613" width="24" height="10" rx="1.5"/><text class="t" x="1429" y="1620.1">再冻结</text></g>
<g id="r11g"><rect class="fb h" x="1376" y="1629" width="32" height="10" rx="1.5"/><text class="t" x="1377" y="1636.1">变革的类型</text></g>
<g id="r11h"><rect class="fb h" x="1376" y="1652" width="44" height="10" rx="1.5"/><text class="t" x="1377" y="1659.1">网络时代的创新</text></g>
<g id="r11h1"><rect class="fb" x="1426" y="1645" width="66" height="10" rx="1.5"/><text class="t" x="1429" y="1652.1">互联网思维对管理影响</text></g>
<g id="r11h2"><rect class="fb" x="1426" y="1661" width="60" height="10" rx="1.5"/><text class="t" x="1429" y="1668.1">数字化转型与平台化</text></g>
<g id="r11i"><rect class="fb h" x="1376" y="1677" width="110" height="10" rx="1.5"/><text class="t" x="1377" y="1684.1">管理创新是提升组织核心竞争力的关键点</text></g>

<g id="r12"><rect class="bi" x="1320" y="1753.5" width="72" height="11" rx="2"/><text class="bt w" x="1356" y="1761.4">管理的伦理与社会责任</text></g>
<g id="r12a"><rect class="fi h" x="1396" y="1707" width="62" height="10" rx="1.5"/><text class="t" x="1397" y="1714.1">管理伦理的概念与内涵</text></g>
<g id="r12a1"><rect class="fi" x="1464" y="1692" width="42" height="10" rx="1.5"/><text class="t" x="1467" y="1699.1">功利主义观点</text></g>
<g id="r12a2"><rect class="fi" x="1464" y="1707" width="36" height="10" rx="1.5"/><text class="t" x="1467" y="1714.1">权利的观点</text></g>
<g id="r12a3"><rect class="fi" x="1464" y="1723" width="66" height="10" rx="1.5"/><text class="t" x="1467" y="1730.1">公正观及综合契约观点</text></g>
<g id="r12b"><rect class="fi h" x="1396" y="1753" width="44" height="10" rx="1.5"/><text class="t" x="1397" y="1760.1">企业的社会责任</text></g>
<g id="r12b1"><rect class="fi" x="1446" y="1738" width="54" height="10" rx="1.5"/><text class="t" x="1449" y="1745.1">古典经济学的观点</text></g>
<g id="r12b2"><rect class="fi" x="1446" y="1754" width="54" height="10" rx="1.5"/><text class="t" x="1449" y="1761.1">社会经济学的观点</text></g>
<g id="r12b3"><rect class="fi" x="1446" y="1770" width="54" height="10" rx="1.5"/><text class="t" x="1449" y="1777.1">社会责任具体体现</text></g>
<g id="r12c"><rect class="fi h" x="1396" y="1801" width="62" height="10" rx="1.5"/><text class="t" x="1397" y="1808.1">改善组织伦理行为途径</text></g>
<g id="r12c1"><rect class="fi" x="1464" y="1785" width="42" height="10" rx="1.5"/><text class="t" x="1467" y="1792.1">挑选合适员工</text></g>
<g id="r12c2"><rect class="fi" x="1464" y="1801" width="36" height="10" rx="1.5"/><text class="t" x="1467" y="1808.1">建立守则制</text></g>
<g id="r12c3"><rect class="fi" x="1464" y="1817" width="54" height="10" rx="1.5"/><text class="t" x="1467" y="1824.1">开展伦理教育培训</text></g>

<g id="l1"><rect class="bb" x="1222" y="272.5" width="45" height="11" rx="2"/><text class="bt w" x="1244.5" y="280.4">管理学的导论</text></g>
<g id="l1a"><rect class="fb" x="1181" y="258" width="36" height="10" rx="1.5"/><text class="t e" x="1214" y="265.1">学科的性质</text></g>
<g id="l1b"><rect class="fb" x="1175" y="273" width="42" height="10" rx="1.5"/><text class="t e" x="1214" y="280.1">学习研究方法</text></g>
<g id="l1c"><rect class="fb" x="1163" y="288" width="54" height="10" rx="1.5"/><text class="t e" x="1214" y="295.1">课程主要学习内容</text></g>

<g id="l2"><rect class="bg" x="1213" y="371.5" width="54" height="11" rx="2"/><text class="bt w" x="1240" y="379.4">管理环境的分析</text></g>
<g id="l2a"><rect class="fg h" x="1171" y="320" width="38" height="10" rx="1.5"/><text class="t e" x="1208" y="327.1">一般环境因素</text></g>
<g id="l2a1"><rect class="fg" x="1111" y="304" width="54" height="10" rx="1.5"/><text class="t e" x="1162" y="311.1">政治法律环境影响</text></g>
<g id="l2a2"><rect class="fg" x="1117" y="320" width="48" height="10" rx="1.5"/><text class="t e" x="1162" y="327.1">经济与技术环境</text></g>
<g id="l2a3"><rect class="fg" x="1111" y="335" width="54" height="10" rx="1.5"/><text class="t e" x="1162" y="342.1">社会文化自然环境</text></g>
<g id="l2b"><rect class="fg h" x="1165" y="375" width="44" height="10" rx="1.5"/><text class="t e" x="1208" y="382.1">具体的任务环境</text></g>
<g id="l2b1"><rect class="fg" x="1105" y="351" width="54" height="10" rx="1.5"/><text class="t e" x="1156" y="358.1">顾客与供应商影响</text></g>
<g id="l2b2"><rect class="fg" x="1075" y="367" width="84" height="10" rx="1.5"/><text class="t e" x="1156" y="374.1">竞争者和政府等利益相关群体</text></g>
<g id="l2b3"><rect class="fg" x="1111" y="382" width="48" height="10" rx="1.5"/><text class="t e" x="1156" y="389.1">行业协会等团体</text></g>
<g id="l2b4"><rect class="fg" x="1123" y="398" width="36" height="10" rx="1.5"/><text class="t e" x="1156" y="405.1">社区与公众</text></g>
<g id="l2c"><rect class="fg h" x="1159" y="422" width="50" height="10" rx="1.5"/><text class="t e" x="1208" y="429.1">环境分析常用工具</text></g>
<g id="l2c1"><rect class="fg" x="1099" y="414" width="54" height="10" rx="1.5"/><text class="t e" x="1150" y="421.1">优势劣势机会威胁</text></g>
<g id="l2c2"><rect class="fg" x="1105" y="430" width="48" height="10" rx="1.5"/><text class="t e" x="1150" y="437.1">五力模型分析法</text></g>

<g id="l3"><rect class="by" x="1193" y="535.5" width="74" height="11" rx="2"/><text class="bt d" x="1230" y="543.4">组织文化与组织的变革</text></g>
<g id="l3a"><rect class="fy h" x="1103" y="453" width="86" height="10" rx="1.5"/><text class="t e" x="1188" y="460.1">组织文化的概念构成要素和特征</text></g>
<g id="l3a1"><rect class="fy" x="1013" y="446" width="84" height="10" rx="1.5"/><text class="t e" x="1094" y="453.1">物质层制度层与精神层三层次</text></g>
<g id="l3a2"><rect class="fy" x="1061" y="460" width="36" height="10" rx="1.5"/><text class="t e" x="1094" y="467.1">核心价值观</text></g>
<g id="l3b"><rect class="fy h" x="1115" y="483" width="74" height="10" rx="1.5"/><text class="t e" x="1188" y="490.1">组织文化的功能和基本作用</text></g>
<g id="l3b1"><rect class="fy" x="1067" y="477" width="42" height="10" rx="1.5"/><text class="t e" x="1106" y="484.1">导向凝聚功能</text></g>
<g id="l3b2"><rect class="fy" x="1073" y="492" width="36" height="10" rx="1.5"/><text class="t e" x="1106" y="499.1">激励与约束</text></g>
<g id="l3c"><rect class="fy h" x="1157" y="524" width="32" height="10" rx="1.5"/><text class="t e" x="1188" y="531.1">文化的塑造</text></g>
<g id="l3c1"><rect class="fy" x="1073" y="507" width="78" height="10" rx="1.5"/><text class="t e" x="1148" y="514.1">选择价值标准强化员工认同</text></g>
<g id="l3c2"><rect class="fy" x="1067" y="524" width="84" height="10" rx="1.5"/><text class="t e" x="1148" y="531.1">提炼定格与巩固落实各项内容</text></g>
<g id="l3c3"><rect class="fy" x="1097" y="540" width="54" height="10" rx="1.5"/><text class="t e" x="1148" y="547.1">在发展中不断丰富</text></g>
<g id="l3d"><rect class="fy h" x="1121" y="564" width="68" height="10" rx="1.5"/><text class="t e" x="1188" y="571.1">组织文化与组织绩效关系</text></g>
<g id="l3d1"><rect class="fy" x="1079" y="555" width="36" height="10" rx="1.5"/><text class="t e" x="1112" y="562.1">强文化理论</text></g>
<g id="l3d2"><rect class="fy" x="1067" y="571" width="48" height="10" rx="1.5"/><text class="t e" x="1112" y="578.1">文化适应性理论</text></g>
<g id="l3e"><rect class="fy h" x="1139" y="587" width="50" height="10" rx="1.5"/><text class="t e" x="1188" y="594.1">跨文化管理的策略</text></g>
<g id="l3f"><rect class="fy h" x="1139" y="602" width="50" height="10" rx="1.5"/><text class="t e" x="1188" y="609.1">文化冲突及其融合</text></g>
<g id="l3g"><rect class="fy h" x="1145" y="616" width="44" height="10" rx="1.5"/><text class="t e" x="1188" y="623.1">文化的评估方法</text></g>

<g id="l4"><rect class="bo" x="1222" y="675.5" width="45" height="11" rx="2"/><text class="bt d" x="1244.5" y="683.4">战略管理概要</text></g>
<g id="l4a"><rect class="fo h" x="1144" y="641" width="74" height="10" rx="1.5"/><text class="t e" x="1217" y="648.1">战略管理的基本概念与特征</text></g>
<g id="l4a1"><rect class="fo" x="1084" y="632" width="54" height="10" rx="1.5"/><text class="t e" x="1135" y="639.1">战略层次与其类型</text></g>
<g id="l4a2"><rect class="fo" x="1096" y="648" width="42" height="10" rx="1.5"/><text class="t e" x="1135" y="655.1">战略管理过程</text></g>
<g id="l4b"><rect class="fo h" x="1150" y="672" width="68" height="10" rx="1.5"/><text class="t e" x="1217" y="679.1">外部环境与内部条件分析</text></g>
<g id="l4b1"><rect class="fo" x="1102" y="664" width="42" height="10" rx="1.5"/><text class="t e" x="1141" y="671.1">价值链分析法</text></g>
<g id="l4b2"><rect class="fo" x="1108" y="680" width="36" height="10" rx="1.5"/><text class="t e" x="1141" y="687.1">核心竞争力</text></g>
<g id="l4c"><rect class="fo h" x="1120" y="712" width="98" height="10" rx="1.5"/><text class="t e" x="1217" y="719.1">战略选择包括总体战略和竞争战略等</text></g>
<g id="l4c1"><rect class="fo" x="1060" y="696" width="54" height="10" rx="1.5"/><text class="t e" x="1111" y="703.1">成本领先战略要点</text></g>
<g id="l4c2"><rect class="fo" x="1042" y="712" width="72" height="10" rx="1.5"/><text class="t e" x="1111" y="719.1">差异化战略及集中化战略</text></g>
<g id="l4c3"><rect class="fo" x="1048" y="727" width="66" height="10" rx="1.5"/><text class="t e" x="1111" y="734.1">多元化和一体化的战略</text></g>

<g id="l5"><rect class="br" x="1212" y="816.5" width="55" height="11" rx="2"/><text class="bt w" x="1239.5" y="824.4">决策理论与方法</text></g>
<g id="l5a"><rect class="fr h" x="1158" y="742" width="50" height="10" rx="1.5"/><text class="t e" x="1207" y="749.1">决策的含义与特征</text></g>
<g id="l5b"><rect class="fr h" x="1146" y="757" width="62" height="10" rx="1.5"/><text class="t e" x="1207" y="764.1">影响决策的因素有哪些</text></g>
<g id="l5c"><rect class="fr h" x="1146" y="782" width="62" height="10" rx="1.5"/><text class="t e" x="1207" y="789.1">决策的理性与有限理性</text></g>
<g id="l5c1"><rect class="fr" x="1092" y="773" width="48" height="10" rx="1.5"/><text class="t e" x="1137" y="780.1">完全理性的假设</text></g>
<g id="l5c2"><rect class="fr" x="1116" y="789" width="24" height="10" rx="1.5"/><text class="t e" x="1137" y="796.1">满意度</text></g>
<g id="l5d"><rect class="fr h" x="1158" y="813" width="50" height="10" rx="1.5"/><text class="t e" x="1207" y="820.1">群体决策的优缺点</text></g>
<g id="l5d1"><rect class="fr" x="1122" y="805" width="30" height="10" rx="1.5"/><text class="t e" x="1149" y="812.1">集思广益</text></g>
<g id="l5d2"><rect class="fr" x="1110" y="821" width="42" height="10" rx="1.5"/><text class="t e" x="1149" y="828.1">耗时责任不清</text></g>
<g id="l5e"><rect class="fr h" x="1134" y="852" width="74" height="10" rx="1.5"/><text class="t e" x="1207" y="859.1">不确定型决策的常用方法等</text></g>
<g id="l5e1"><rect class="fr" x="1086" y="836" width="42" height="10" rx="1.5"/><text class="t e" x="1125" y="843.1">乐观准则方法</text></g>
<g id="l5e2"><rect class="fr" x="1098" y="852" width="30" height="10" rx="1.5"/><text class="t e" x="1125" y="859.1">悲观准则</text></g>
<g id="l5e3"><rect class="fr" x="1086" y="867" width="42" height="10" rx="1.5"/><text class="t e" x="1125" y="874.1">最小后悔值法</text></g>
<g id="l5f"><rect class="fr h" x="1152" y="890" width="56" height="10" rx="1.5"/><text class="t e" x="1207" y="897.1">风险型决策决策树法</text></g>
<g id="l5f1"><rect class="fr" x="1116" y="882" width="30" height="10" rx="1.5"/><text class="t e" x="1143" y="889.1">期望收益</text></g>
<g id="l5f2"><rect class="fr" x="1110" y="898" width="36" height="10" rx="1.5"/><text class="t e" x="1143" y="905.1">方案的选择</text></g>

<g id="l6"><rect class="bi" x="1217" y="960.5" width="50" height="11" rx="2"/><text class="bt w" x="1242" y="968.4">组织设计原理</text></g>
<g id="l6a"><rect class="fi h" x="1175" y="914" width="38" height="10" rx="1.5"/><text class="t e" x="1212" y="921.1">组织设计任务</text></g>
<g id="l6b"><rect class="fi h" x="1181" y="953" width="32" height="10" rx="1.5"/><text class="t e" x="1212" y="960.1">部门化方式</text></g>
<g id="l6b1"><rect class="fi" x="1085" y="930" width="90" height="10" rx="1.5"/><text class="t e" x="1172" y="937.1">职能部门化按专业分工划分部门</text></g>
<g id="l6b2"><rect class="fi" x="1109" y="946" width="66" height="10" rx="1.5"/><text class="t e" x="1172" y="953.1">产品与地区部门化方式</text></g>
<g id="l6b3"><rect class="fi" x="1133" y="962" width="42" height="10" rx="1.5"/><text class="t e" x="1172" y="969.1">顾客部门化等</text></g>
<g id="l6b4"><rect class="fi" x="1133" y="977" width="42" height="10" rx="1.5"/><text class="t e" x="1172" y="984.1">流程部门化等</text></g>
<g id="l6c"><rect class="fi h" x="1181" y="1008" width="32" height="10" rx="1.5"/><text class="t e" x="1212" y="1015.1">集权与分权</text></g>
<g id="l6c1"><rect class="fi" x="1145" y="993" width="30" height="10" rx="1.5"/><text class="t e" x="1172" y="1000.1">影响因素</text></g>
<g id="l6c2"><rect class="fi" x="1115" y="1008" width="60" height="10" rx="1.5"/><text class="t e" x="1172" y="1015.1">分权途径与授权方式</text></g>
<g id="l6c3"><rect class="fi" x="1091" y="1023" width="84" height="10" rx="1.5"/><text class="t e" x="1172" y="1030.1">授权原则及应注意的相关问题</text></g>

<g id="l7"><rect class="bb" x="1222" y="1085.5" width="45" height="11" rx="2"/><text class="bt w" x="1244.5" y="1093.4">人员配备概述</text></g>
<g id="l7a"><rect class="fb h" x="1192" y="1054" width="26" height="10" rx="1.5"/><text class="t e" x="1217" y="1061.1">选聘方法</text></g>
<g id="l7a1"><rect class="fb" x="1132" y="1039" width="54" height="10" rx="1.5"/><text class="t e" x="1183" y="1046.1">内部提升的优缺点</text></g>
<g id="l7a2"><rect class="fb" x="1144" y="1055" width="42" height="10" rx="1.5"/><text class="t e" x="1183" y="1062.1">外部招聘优势</text></g>
<g id="l7a3"><rect class="fb" x="1138" y="1070" width="48" height="10" rx="1.5"/><text class="t e" x="1183" y="1077.1">面试与测试方法</text></g>
<g id="l7b"><rect class="fb h" x="1168" y="1094" width="50" height="10" rx="1.5"/><text class="t e" x="1217" y="1101.1">管理人员考评方法</text></g>
<g id="l7b1"><rect class="fb" x="1126" y="1087" width="36" height="10" rx="1.5"/><text class="t e" x="1159" y="1094.1">考评的内容</text></g>
<g id="l7b2"><rect class="fb" x="1096" y="1102" width="66" height="10" rx="1.5"/><text class="t e" x="1159" y="1109.1">考评的程序与方法步骤</text></g>
<g id="l7c"><rect class="fb h" x="1144" y="1118" width="74" height="10" rx="1.5"/><text class="t e" x="1217" y="1125.1">管理人员培训的目标与方法</text></g>

<g id="l8"><rect class="bg" x="1188" y="1194.5" width="79" height="11" rx="2"/><text class="bt w" x="1227.5" y="1202.4">领导的基本概念及其作用</text></g>
<g id="l8a"><rect class="fg h" x="1128" y="1156" width="56" height="10" rx="1.5"/><text class="t e" x="1183" y="1163.1">领导者权力主要来源</text></g>
<g id="l8a1"><rect class="fg" x="1086" y="1133" width="36" height="10" rx="1.5"/><text class="t e" x="1119" y="1140.1">法定的权力</text></g>
<g id="l8a2"><rect class="fg" x="1068" y="1149" width="54" height="10" rx="1.5"/><text class="t e" x="1119" y="1156.1">奖赏权与强制权力</text></g>
<g id="l8a3"><rect class="fg" x="1086" y="1164" width="36" height="10" rx="1.5"/><text class="t e" x="1119" y="1171.1">专家的权力</text></g>
<g id="l8a4"><rect class="fg" x="1086" y="1180" width="36" height="10" rx="1.5"/><text class="t e" x="1119" y="1187.1">感召的权力</text></g>
<g id="l8b"><rect class="fg h" x="1134" y="1203" width="50" height="10" rx="1.5"/><text class="t e" x="1183" y="1210.1">领导与管理的区别</text></g>
<g id="l8b1"><rect class="fg" x="1080" y="1195" width="48" height="10" rx="1.5"/><text class="t e" x="1125" y="1202.1">领导侧重于变革</text></g>
<g id="l8b2"><rect class="fg" x="1098" y="1210" width="30" height="10" rx="1.5"/><text class="t e" x="1125" y="1217.1">管理重点</text></g>
<g id="l8c"><rect class="fg h" x="1134" y="1235" width="50" height="10" rx="1.5"/><text class="t e" x="1183" y="1242.1">领导艺术主要体现</text></g>
<g id="l8c1"><rect class="fg" x="1062" y="1227" width="66" height="10" rx="1.5"/><text class="t e" x="1125" y="1234.1">做好领导本职工作艺术</text></g>
<g id="l8c2"><rect class="fg" x="1056" y="1243" width="72" height="10" rx="1.5"/><text class="t e" x="1125" y="1250.1">合理安排时间和提高效率</text></g>

<g id="l9"><rect class="by" x="1193" y="1348.5" width="74" height="11" rx="2"/><text class="bt d" x="1230" y="1356.4">沟通管理与冲突的处理</text></g>
<g id="l9a"><rect class="fy h" x="1157" y="1282" width="32" height="10" rx="1.5"/><text class="t e" x="1188" y="1289.1">沟通的过程</text></g>
<g id="l9a1"><rect class="fy" x="1103" y="1258" width="48" height="10" rx="1.5"/><text class="t e" x="1148" y="1265.1">信息发送者编码</text></g>
<g id="l9a2"><rect class="fy" x="1085" y="1274" width="66" height="10" rx="1.5"/><text class="t e" x="1148" y="1281.1">信息传递渠道与其解码</text></g>
<g id="l9a3"><rect class="fy" x="1109" y="1290" width="42" height="10" rx="1.5"/><text class="t e" x="1148" y="1297.1">信息反馈环节</text></g>
<g id="l9a4"><rect class="fy" x="1103" y="1305" width="48" height="10" rx="1.5"/><text class="t e" x="1148" y="1312.1">噪声干扰的影响</text></g>
<g id="l9b"><rect class="fy h" x="1157" y="1337" width="32" height="10" rx="1.5"/><text class="t e" x="1188" y="1344.1">沟通的网络</text></g>
<g id="l9b1"><rect class="fy" x="1109" y="1321" width="42" height="10" rx="1.5"/><text class="t e" x="1148" y="1328.1">链式与轮式网</text></g>
<g id="l9b2"><rect class="fy" x="1109" y="1337" width="42" height="10" rx="1.5"/><text class="t e" x="1148" y="1344.1">环式与全通道</text></g>
<g id="l9b3"><rect class="fy" x="1103" y="1352" width="48" height="10" rx="1.5"/><text class="t e" x="1148" y="1359.1">非正式沟通网络</text></g>
<g id="l9c"><rect class="fy h" x="1151" y="1383" width="38" height="10" rx="1.5"/><text class="t e" x="1188" y="1390.1">冲突管理方法</text></g>
<g id="l9c1"><rect class="fy" x="1085" y="1368" width="60" height="10" rx="1.5"/><text class="t e" x="1142" y="1375.1">冲突的类型与其成因</text></g>
<g id="l9c2"><rect class="fy" x="1079" y="1383" width="66" height="10" rx="1.5"/><text class="t e" x="1142" y="1390.1">建设性冲突与破坏冲突</text></g>
<g id="l9c3"><rect class="fy" x="1091" y="1399" width="54" height="10" rx="1.5"/><text class="t e" x="1142" y="1406.1">谈判的策略与技巧</text></g>
<g id="l9d"><rect class="fy h" x="1157" y="1415" width="32" height="10" rx="1.5"/><text class="t e" x="1188" y="1422.1">压力的管理</text></g>

<g id="l10"><rect class="bo" x="1216" y="1457.5" width="51" height="11" rx="2"/><text class="bt d" x="1241.5" y="1465.4">激励理论的应用</text></g>
<g id="l10a"><rect class="fo h" x="1162" y="1438" width="50" height="10" rx="1.5"/><text class="t e" x="1211" y="1445.1">内容型的激励理论</text></g>
<g id="l10a1"><rect class="fo" x="1096" y="1432" width="60" height="10" rx="1.5"/><text class="t e" x="1153" y="1439.1">马斯洛需要层次理论</text></g>
<g id="l10a2"><rect class="fo" x="1096" y="1447" width="60" height="10" rx="1.5"/><text class="t e" x="1153" y="1454.1">赫茨伯格双因素理论</text></g>
<g id="l10b"><rect class="fo h" x="1162" y="1478" width="50" height="10" rx="1.5"/><text class="t e" x="1211" y="1485.1">过程型的激励理论</text></g>
<g id="l10b1"><rect class="fo" x="1096" y="1462" width="60" height="10" rx="1.5"/><text class="t e" x="1153" y="1469.1">弗鲁姆期望理论模型</text></g>
<g id="l10b2"><rect class="fo" x="1096" y="1478" width="60" height="10" rx="1.5"/><text class="t e" x="1153" y="1485.1">亚当斯公平理论观点</text></g>
<g id="l10b3"><rect class="fo" x="1096" y="1493" width="60" height="10" rx="1.5"/><text class="t e" x="1153" y="1500.1">斯金纳强化理论应用</text></g>

<g id="l11"><rect class="br" x="1212" y="1590.5" width="55" height="11" rx="2"/><text class="bt w" x="1239.5" y="1598.4">控制系统与方法</text></g>
<g id="l11a"><rect class="fr h" x="1158" y="1517" width="50" height="10" rx="1.5"/><text class="t e" x="1207" y="1524.1">控制系统基本构成</text></g>
<g id="l11a1"><rect class="fr" x="1092" y="1509" width="60" height="10" rx="1.5"/><text class="t e" x="1149" y="1516.1">控制目标体系与标准</text></g>
<g id="l11a2"><rect class="fr" x="1092" y="1524" width="60" height="10" rx="1.5"/><text class="t e" x="1149" y="1531.1">控制主体与控制客体</text></g>
<g id="l11b"><rect class="fr h" x="1164" y="1564" width="44" height="10" rx="1.5"/><text class="t e" x="1207" y="1571.1">有效控制的原则</text></g>
<g id="l11b1"><rect class="fr" x="1122" y="1540" width="36" height="10" rx="1.5"/><text class="t e" x="1155" y="1547.1">适时控制法</text></g>
<g id="l11b2"><rect class="fr" x="1092" y="1556" width="66" height="10" rx="1.5"/><text class="t e" x="1155" y="1563.1">适度控制与客观性控制</text></g>
<g id="l11b3"><rect class="fr" x="1098" y="1572" width="60" height="10" rx="1.5"/><text class="t e" x="1155" y="1579.1">弹性控制与重点控制</text></g>
<g id="l11b4"><rect class="fr" x="1104" y="1587" width="54" height="10" rx="1.5"/><text class="t e" x="1155" y="1594.1">控制关键点的选择</text></g>
<g id="l11c"><rect class="fr h" x="1140" y="1610" width="68" height="10" rx="1.5"/><text class="t e" x="1207" y="1617.1">前馈同期与反馈控制类型</text></g>
<g id="l11c1"><rect class="fr" x="1098" y="1602" width="36" height="10" rx="1.5"/><text class="t e" x="1131" y="1609.1">事前的控制</text></g>
<g id="l11c2"><rect class="fr" x="1086" y="1618" width="48" height="10" rx="1.5"/><text class="t e" x="1131" y="1625.1">事中与事后控制</text></g>
<g id="l11d"><rect class="fr h" x="1170" y="1665" width="38" height="10" rx="1.5"/><text class="t e" x="1207" y="1672.1">常用控制方法</text></g>
<g id="l11d1"><rect class="fr" x="1134" y="1633" width="30" height="10" rx="1.5"/><text class="t e" x="1161" y="1640.1">预算控制</text></g>
<g id="l11d2"><rect class="fr" x="1134" y="1649" width="30" height="10" rx="1.5"/><text class="t e" x="1161" y="1656.1">比率分析</text></g>
<g id="l11d3"><rect class="fr" x="1134" y="1665" width="30" height="10" rx="1.5"/><text class="t e" x="1161" y="1672.1">审计控制</text></g>
<g id="l11d4"><rect class="fr" x="1134" y="1681" width="30" height="10" rx="1.5"/><text class="t e" x="1161" y="1688.1">损益控制</text></g>
<g id="l11d5"><rect class="fr" x="1116" y="1697" width="48" height="10" rx="1.5"/><text class="t e" x="1161" y="1704.1">平衡计分卡方法</text></g>
</g>
</svg>
